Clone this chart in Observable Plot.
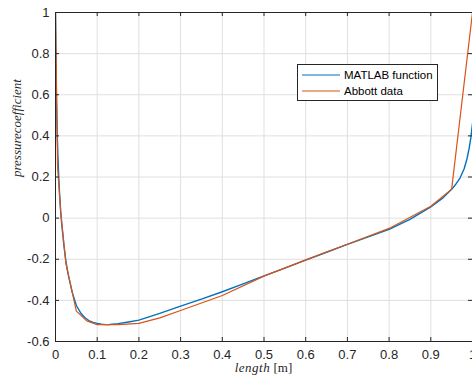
<!DOCTYPE html>
<html>
<head>
<meta charset="utf-8">
<script src="https://cdn.jsdelivr.net/npm/d3@7"></script>
<script src="https://cdn.jsdelivr.net/npm/@observablehq/plot@0.6"></script>
<style>
  html, body { margin: 0; padding: 0; background: #fff; overflow: hidden; }
  #wrap { position: relative; width: 472px; height: 381px; }
  #legend {
    position: absolute; left: 297px; top: 64px; width: 141px; height: 37px;
    border: 1px solid #262626; background: #fff; box-sizing: border-box;
    font-family: "Liberation Sans", Arial, sans-serif; font-size: 11.5px; color: #000;
  }
  .row { position: absolute; left: 0; height: 14px; line-height: 14px; white-space: nowrap; }
  .row svg { position: absolute; left: 4px; top: 5px; }
  .row span { position: absolute; left: 46px; top: 0; }
</style>
</head>
<body>
<div id="wrap"></div>
<script>
// ---- data ----
const xTicks = [0, 0.1, 0.2, 0.3, 0.4, 0.5, 0.6, 0.7, 0.8, 0.9, 1];
const yTicks = [-0.6, -0.4, -0.2, 0, 0.2, 0.4, 0.6, 0.8, 1];

const matlabX = [0, 0.001, 0.002, 0.004, 0.006, 0.008, 0.010, 0.0125, 0.015, 0.02, 0.025, 0.03, 0.04, 0.05, 0.06, 0.07, 0.08, 0.09, 0.10, 0.11, 0.12, 0.13, 0.15, 0.175, 0.2, 0.25, 0.3, 0.35, 0.4, 0.45, 0.5, 0.55, 0.6, 0.65, 0.7, 0.75, 0.8, 0.85, 0.9, 0.93, 0.95, 0.96, 0.97, 0.98, 0.987, 0.992, 0.996, 1.0];
const matlabY = [1.0, 0.80, 0.62, 0.42, 0.29, 0.19, 0.11, 0.03, -0.03, -0.13, -0.21, -0.27, -0.36, -0.425, -0.46, -0.483, -0.498, -0.507, -0.512, -0.516, -0.518, -0.517, -0.513, -0.505, -0.496, -0.463, -0.428, -0.394, -0.358, -0.32, -0.281, -0.243, -0.204, -0.166, -0.128, -0.091, -0.055, -0.006, 0.055, 0.10, 0.14, 0.165, 0.195, 0.24, 0.29, 0.34, 0.39, 0.46];

const abbottX = [0, 0.005, 0.0125, 0.025, 0.05, 0.075, 0.1, 0.15, 0.2, 0.25, 0.3, 0.4, 0.5, 0.6, 0.7, 0.8, 0.9, 0.95, 1.0];
const abbottY = [1.0, 0.25, 0.03, -0.22, -0.452, -0.50, -0.518, -0.518, -0.512, -0.485, -0.449, -0.376, -0.282, -0.203, -0.127, -0.05, 0.058, 0.141, 1.0];

const seriesNames = ["MATLAB function", "Abbott data"];
const seriesColors = ["#0072BD", "#D95319"];
const xLabelItalic = "length";
const xLabelRoman = " [m]";
const yLabel = "pressurecoefficient";

const matlab = matlabX.map((x, i) => ({x, y: matlabY[i]}));
const abbott = abbottX.map((x, i) => ({x, y: abbottY[i]}));
const fmt = d => String(+d.toFixed(1));

const W = 472, H = 381, mL = 55, mR = 0, mT = 12, mB = 40;
const innerW = W - mL - mR, innerH = H - mT - mB;
const tick = 4;

const plot = Plot.plot({
  width: W, height: H,
  marginLeft: mL, marginRight: mR, marginTop: mT, marginBottom: mB,
  x: {domain: [0, 1]},
  y: {domain: [-0.6, 1]},
  style: {fontFamily: "'Liberation Sans', Arial, sans-serif", fontSize: "13px", color: "#262626", background: "#fff", overflow: "visible"},
  marks: [
    Plot.gridX(xTicks, {stroke: "#dfdfdf", strokeOpacity: 1}),
    Plot.gridY(yTicks, {stroke: "#dfdfdf", strokeOpacity: 1}),
    Plot.line(matlab, {x: "x", y: "y", stroke: seriesColors[0], strokeWidth: 1.4, clip: true}),
    Plot.line(abbott, {x: "x", y: "y", stroke: seriesColors[1], strokeWidth: 1.2, clip: true}),
    Plot.tickX(xTicks, {x: d => d, insetTop: innerH - tick, stroke: "#262626"}),
    Plot.tickX(xTicks, {x: d => d, insetBottom: innerH - tick, stroke: "#262626"}),
    Plot.tickY(yTicks, {y: d => d, insetRight: innerW - tick, stroke: "#262626"}),
    Plot.tickY(yTicks, {y: d => d, insetLeft: innerW - tick, stroke: "#262626"}),
    Plot.axisX(xTicks, {tickSize: 0, tickPadding: 8, tickFormat: fmt, label: null, fill: "#262626"}),
    Plot.axisY(yTicks, {tickSize: 0, tickPadding: 6, tickFormat: fmt, label: null, fill: "#262626"}),
    Plot.frame({stroke: "#262626", strokeWidth: 1}),
    Plot.text([yLabel], {text: d => d, frameAnchor: "left", rotate: -90, dx: -39, fontFamily: "'Liberation Serif', 'DejaVu Serif', serif", fontStyle: "italic", fontSize: 13, fill: "#262626", letterSpacing: "0.6px"})
  ]
});

// x label with mixed italic / roman styles
const xs = plot.scale("x");
const svg = d3.select(plot);
const t = svg.append("text")
  .attr("x", xs.apply(0.5))
  .attr("y", 372)
  .attr("text-anchor", "middle")
  .attr("font-family", "'Liberation Serif', 'DejaVu Serif', serif")
  .attr("font-size", 13)
  .attr("fill", "#262626");
t.append("tspan").attr("font-style", "italic").attr("letter-spacing", "0.5px").text(xLabelItalic);
t.append("tspan").attr("xml:space", "preserve").text(xLabelRoman);

const wrap = document.getElementById("wrap");
wrap.appendChild(plot);

// legend
const lg = document.createElement("div");
lg.id = "legend";
seriesNames.forEach((name, i) => {
  const r = document.createElement("div");
  r.className = "row";
  r.style.top = (i === 0 ? 3 : 19) + "px";
  const sw = d3.create("svg").attr("width", 38).attr("height", 4);
  sw.append("line").attr("x1", 0).attr("x2", 38).attr("y1", 2).attr("y2", 2)
    .attr("stroke", seriesColors[i]).attr("stroke-width", 1.2);
  const tx = document.createElement("span");
  tx.textContent = name;
  r.appendChild(sw.node()); r.appendChild(tx);
  lg.appendChild(r);
});
wrap.appendChild(lg);
</script>
</body>
</html>
